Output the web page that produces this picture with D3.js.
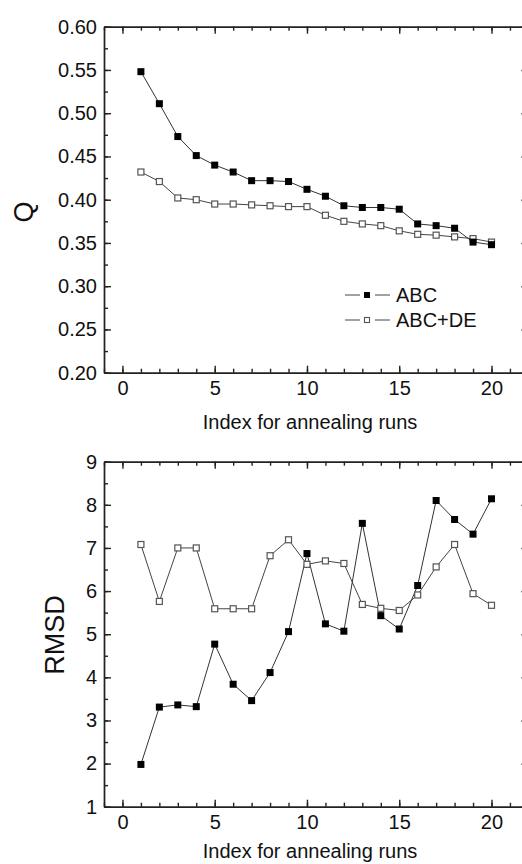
<!DOCTYPE html>
<html>
<head>
<meta charset="utf-8">
<script src="https://cdn.jsdelivr.net/npm/d3@7"></script>
<style>
  body { margin: 0; background: #fff; }
  svg { display: block; font-family: "Liberation Sans", Arial, sans-serif; }
  .axis path, .axis line { stroke: #222; stroke-width: 1.4; }
  .axis text { fill: #111; font-size: 20px; font-family: "Liberation Sans", Arial, sans-serif; }
</style>
</head>
<body>
<div class="canvas"></div>
<script>
const runs = [1, 2, 3, 4, 5, 6, 7, 8, 9, 10, 11, 12, 13, 14, 15, 16, 17, 18, 19, 20]
const seriesNames = ["ABC", "ABC+DE"]
const qABC = [0.548, 0.511, 0.473, 0.451, 0.440, 0.432, 0.422, 0.422, 0.421, 0.412,
  0.404, 0.393, 0.391, 0.391, 0.389, 0.372, 0.370, 0.367, 0.351, 0.348]
const qABCDE = [0.432, 0.421, 0.402, 0.400, 0.395, 0.395, 0.394, 0.393, 0.392, 0.392,
  0.382, 0.375, 0.372, 0.370, 0.364, 0.360, 0.359, 0.357, 0.355, 0.351]
const rmsdABC = [1.98, 3.31, 3.36, 3.32, 4.77, 3.84, 3.46, 4.11, 5.06, 6.87,
  5.24, 5.07, 7.57, 5.43, 5.12, 6.13, 8.10, 7.66, 7.32, 8.14]
const rmsdABCDE = [7.08, 5.76, 7.00, 7.00, 5.59, 5.59, 5.59, 6.82, 7.19, 6.62,
  6.70, 6.64, 5.69, 5.60, 5.55, 5.91, 6.56, 7.08, 5.94, 5.67]
const xTicks = [0, 5, 10, 15, 20]
const qTicks = [0.20, 0.25, 0.30, 0.35, 0.40, 0.45, 0.50, 0.55, 0.60]
const rmsdTicks = [1, 2, 3, 4, 5, 6, 7, 8, 9]

const W = 522, H = 864
const svg = d3.select(".canvas").append("svg")
  .attr("width", W).attr("height", H)
  .style("background", "#fff")

const x = d3.scaleLinear().domain([-1, 22]).range([104, 528.4])
const xMinor = d3.range(-1, 23, 1)

function panel(opts) {
  const y = d3.scaleLinear().domain(opts.domain).range([opts.bottom, opts.top])
  const g = svg.append("g")

  // minor ticks
  g.append("g").attr("class", "axis").attr("transform", `translate(0,${opts.bottom})`)
    .call(d3.axisBottom(x).tickValues(xMinor).tickSize(-4).tickSizeOuter(0).tickFormat(""))
  g.append("g").attr("class", "axis").attr("transform", `translate(0,${opts.top})`)
    .call(d3.axisTop(x).tickValues(xMinor).tickSize(-4).tickSizeOuter(0).tickFormat(""))
  g.append("g").attr("class", "axis").attr("transform", `translate(${x.range()[0]},0)`)
    .call(d3.axisLeft(y).tickValues(opts.minor).tickSize(-4).tickSizeOuter(0).tickFormat(""))
  g.append("g").attr("class", "axis").attr("transform", `translate(${x.range()[1]},0)`)
    .call(d3.axisRight(y).tickValues(opts.minor).tickSize(-4).tickSizeOuter(0).tickFormat(""))

  // major ticks
  g.append("g").attr("class", "axis").attr("transform", `translate(0,${opts.bottom})`)
    .call(d3.axisBottom(x).tickValues(xTicks).tickSize(-7).tickSizeOuter(0).tickPadding(8).tickFormat(d3.format("d")))
  g.append("g").attr("class", "axis").attr("transform", `translate(0,${opts.top})`)
    .call(d3.axisTop(x).tickValues(xTicks).tickSize(-7).tickSizeOuter(0).tickFormat(""))
  g.append("g").attr("class", "axis").attr("transform", `translate(${x.range()[0]},0)`)
    .call(d3.axisLeft(y).tickValues(opts.ticks).tickSize(-7).tickSizeOuter(0).tickPadding(7).tickFormat(opts.fmt))
  g.append("g").attr("class", "axis").attr("transform", `translate(${x.range()[1]},0)`)
    .call(d3.axisRight(y).tickValues(opts.ticks).tickSize(-7).tickSizeOuter(0).tickFormat(""))

  // axis titles
  g.append("text")
    .attr("x", 310).attr("y", opts.xTitleY)
    .attr("text-anchor", "middle")
    .style("font-size", "20px").attr("fill", "#111")
    .text("Index for annealing runs")
  g.append("text")
    .attr("transform", `translate(${opts.yTitleX},${opts.yTitleY}) rotate(-90)`)
    .attr("text-anchor", "middle")
    .style("font-size", "27px").attr("fill", "#111")
    .text(opts.yTitle)

  const line = d3.line().x((d, i) => x(runs[i])).y(d => y(d))
  const s = 7

  // open series first, filled on top
  g.append("path").datum(opts.open)
    .attr("d", line).attr("fill", "none").attr("stroke", "#444").attr("stroke-width", 1)
  g.append("path").datum(opts.filled)
    .attr("d", line).attr("fill", "none").attr("stroke", "#333").attr("stroke-width", 1)
  g.selectAll(".open").data(opts.open).enter().append("rect")
    .attr("x", (d, i) => x(runs[i]) - s / 2 + 0.5)
    .attr("y", d => y(d) - s / 2 + 0.5)
    .attr("width", s - 1).attr("height", s - 1)
    .attr("fill", "#fff").attr("stroke", "#555").attr("stroke-width", 1.2)
  g.selectAll(".filled").data(opts.filled).enter().append("rect")
    .attr("x", (d, i) => x(runs[i]) - s / 2)
    .attr("y", d => y(d) - s / 2)
    .attr("width", s).attr("height", s)
    .attr("fill", "#000")
  return { g, y }
}

const qPanel = panel({
  domain: [0.2, 0.6], top: 26.7, bottom: 372.7,
  ticks: qTicks, minor: d3.range(0.2, 0.6001, 0.025),
  fmt: d3.format(".2f"),
  filled: qABC, open: qABCDE,
  xTitleY: 429, yTitle: "Q", yTitleX: 33, yTitleY: 212
})

const rmsdPanel = panel({
  domain: [1, 9], top: 461.7, bottom: 806.7,
  ticks: rmsdTicks, minor: d3.range(1, 9.001, 0.5),
  fmt: d3.format("d"),
  filled: rmsdABC, open: rmsdABCDE,
  xTitleY: 858, yTitle: "RMSD", yTitleX: 64, yTitleY: 635
})

// legend
const legend = svg.append("g").attr("transform", "translate(345,295)")
seriesNames.forEach((name, i) => {
  const row = legend.append("g").attr("transform", `translate(0,${i * 25})`)
  row.append("line").attr("x1", 0).attr("x2", 15).attr("stroke", "#444").attr("stroke-width", 1)
  row.append("line").attr("x1", 30).attr("x2", 45).attr("stroke", "#444").attr("stroke-width", 1)
  if (i === 0) {
    row.append("rect").attr("x", 19).attr("y", -3).attr("width", 6).attr("height", 6).attr("fill", "#000")
  } else {
    row.append("rect").attr("x", 19.5).attr("y", -2.5).attr("width", 5).attr("height", 5)
      .attr("fill", "#fff").attr("stroke", "#555").attr("stroke-width", 1.1)
  }
  row.append("text").attr("x", 51).attr("y", 7)
    .style("font-size", "20px").attr("fill", "#111")
    .text(name)
})
</script>
</body>
</html>
